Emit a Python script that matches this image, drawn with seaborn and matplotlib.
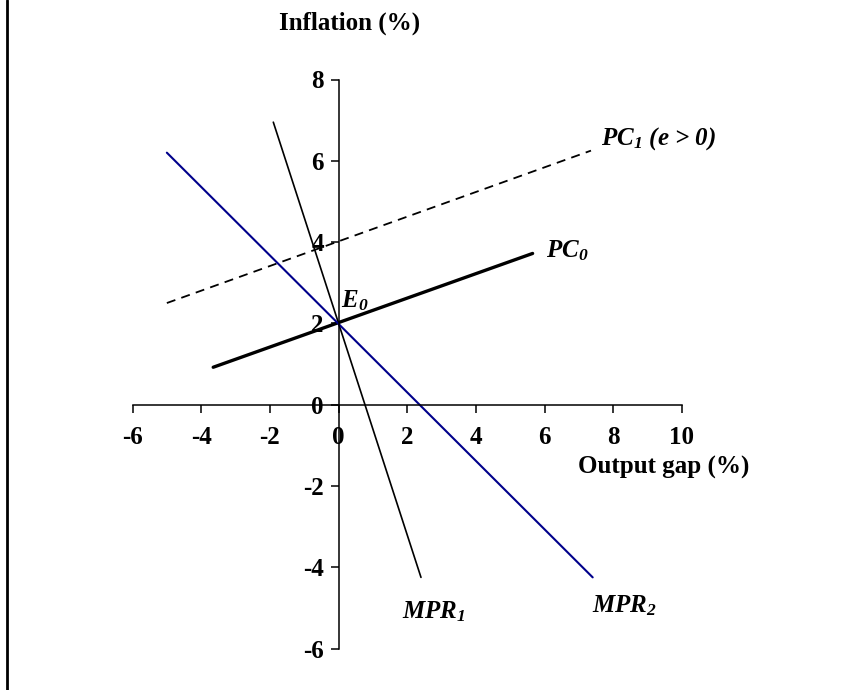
import matplotlib
matplotlib.use("Agg")
import matplotlib.pyplot as plt
import seaborn as sns
import pandas as pd
from matplotlib.lines import Line2D

# ---- data ----
pc0_x = [-3.65, 5.65]
pc0_y = [0.92, 3.72]
pc1_x = [-5.0, 7.35]
pc1_y = [2.5, 6.25]
mpr1_x = [-1.9, 2.4]
mpr1_y = [6.95, -4.25]
mpr2_x = [-5.0, 7.4]
mpr2_y = [6.2, -4.25]

x_ticks = [-6, -4, -2, 0, 2, 4, 6, 8, 10]
y_ticks = [-6, -4, -2, 0, 2, 4, 6, 8]

x_label = "Output gap (%)"
y_label = "Inflation (%)"

sns.set_theme(style="white")
plt.rcParams['font.family'] = ['Liberation Serif', 'DejaVu Serif']
plt.rcParams['text.color'] = 'black'
plt.rcParams['axes.labelcolor'] = 'black'
plt.rcParams['xtick.color'] = 'black'
plt.rcParams['ytick.color'] = 'black'
plt.rcParams['mathtext.fontset'] = 'custom'
plt.rcParams['mathtext.rm'] = 'Liberation Serif:italic:bold'
plt.rcParams['mathtext.it'] = 'Liberation Serif:italic:bold'
plt.rcParams['mathtext.bf'] = 'Liberation Serif:italic:bold'

FS = 18
W, H = 862, 690
fig = plt.figure(figsize=(W / 100, H / 100), dpi=100)
ax = fig.add_axes([132.5 / W, 1 - 648.5 / H, (682 - 132.5) / W, (648.5 - 79.5) / H])

df = pd.concat([
    pd.DataFrame({"x": pc0_x, "y": pc0_y, "curve": "PC0"}),
    pd.DataFrame({"x": pc1_x, "y": pc1_y, "curve": "PC1"}),
    pd.DataFrame({"x": mpr1_x, "y": mpr1_y, "curve": "MPR1"}),
    pd.DataFrame({"x": mpr2_x, "y": mpr2_y, "curve": "MPR2"}),
], ignore_index=True)

styles = {
    "PC0": dict(color="black", lw=2.4, ls="-"),
    "PC1": dict(color="black", lw=1.3, ls=(0, (5, 3.5))),
    "MPR1": dict(color="black", lw=1.2, ls="-"),
    "MPR2": dict(color="#00008B", lw=1.5, ls="-"),
}
for name, st in styles.items():
    sub = df[df["curve"] == name]
    sns.lineplot(data=sub, x="x", y="y", ax=ax, sort=False, estimator=None,
                 color=st["color"], linewidth=st["lw"], linestyle=st["ls"])

ax.set_xlim(-6, 10)
ax.set_ylim(-6, 8)
ax.set_xticks(x_ticks)
ax.set_yticks(y_ticks)
ax.set_xlabel("")
ax.set_ylabel("")
for s in ["top", "right"]:
    ax.spines[s].set_visible(False)
ax.spines["left"].set_position(("data", 0))
ax.spines["bottom"].set_position(("data", 0))
for s in ["left", "bottom"]:
    ax.spines[s].set_color("black")
    ax.spines[s].set_linewidth(1.1)
ax.tick_params(axis="x", direction="out", length=5.5, width=1.1, color="black",
               pad=10, labelsize=FS, bottom=True, labelcolor="black")
ax.tick_params(axis="y", direction="out", length=5.5, width=1.1, color="black",
               pad=5, labelsize=FS, left=True, labelcolor="black")
ax.set_xticklabels([str(v) for v in x_ticks])
ax.set_yticklabels([str(v) for v in y_ticks])
for lab in ax.get_xticklabels() + ax.get_yticklabels():
    lab.set_fontweight("bold")
ax.grid(False)
ax.set_facecolor("white")

lab_kw = dict(fontsize=FS, fontweight="bold", fontstyle="italic", ha="left", va="center",
              color="black")
ax.text(7.65, 6.55, r"PC$_1$ (e > 0)", **lab_kw)
ax.text(6.05, 3.8, r"PC$_0$", **lab_kw)
ax.text(0.08, 2.55, r"E$_0$", **lab_kw)
ax.text(1.84, -5.1, r"MPR$_1$", **lab_kw)
ax.text(7.37, -4.95, r"MPR$_2$", **lab_kw)

fig.text(349.5 / W, 1 - 23 / H, y_label, fontsize=FS, fontweight="bold", ha="center",
         va="center", color="black")
fig.text(664 / W, 1 - 467 / H, x_label, fontsize=FS, fontweight="bold", ha="center",
         va="center", color="black")

fig.add_artist(Line2D([7.3 / W, 7.3 / W], [0, 1], color="black", lw=2.0,
                      transform=fig.transFigure))

fig.savefig("out.png", dpi=100, facecolor="white")
